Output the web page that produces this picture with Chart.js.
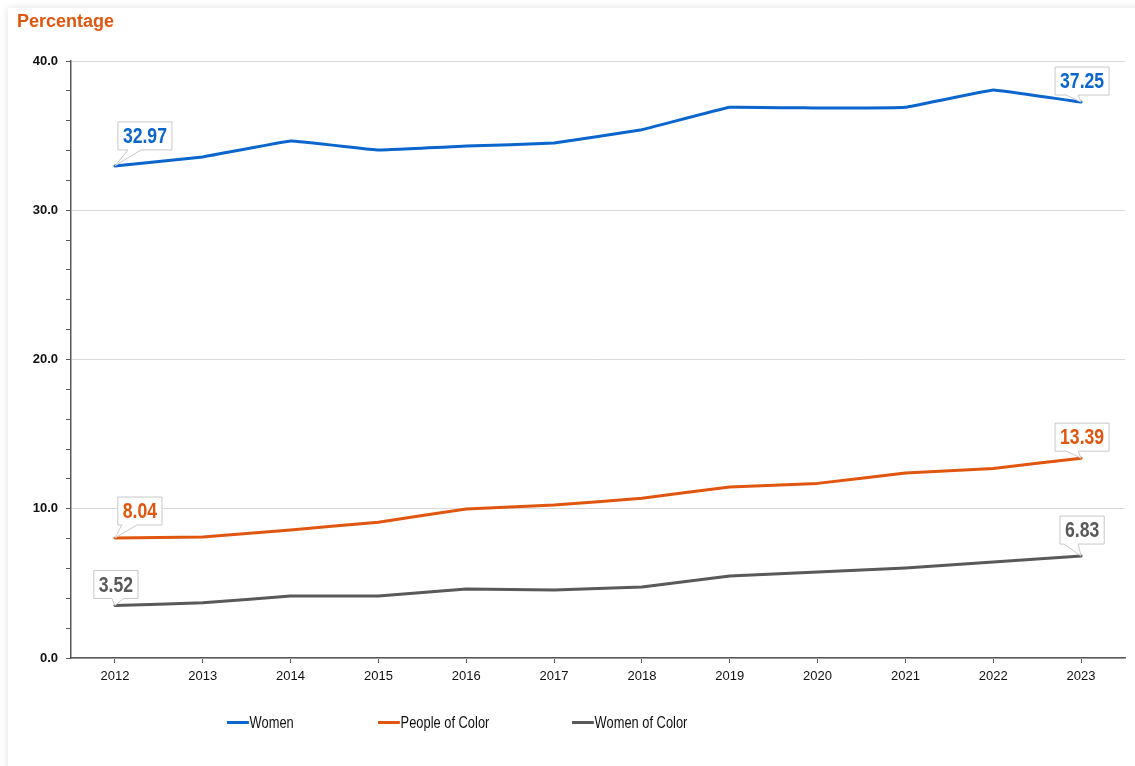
<!DOCTYPE html>
<html>
<head>
<meta charset="utf-8">
<script src="https://cdn.jsdelivr.net/npm/chart.js@4.4.1/dist/chart.umd.min.js"></script>
<style>
  html, body { margin: 0; padding: 0; background: #fff; }
  body { width: 1135px; height: 766px; position: relative; overflow: hidden; font-family: 'Liberation Sans', Arial, sans-serif; }
  .card { position: absolute; left: 8px; top: 8px; width: 1140px; height: 770px; background: #fff; box-shadow: 0 0 8px rgba(0,0,0,0.12); }
  #wrap { position: absolute; left: 0; top: 0; width: 1135px; height: 766px; }
  .title { position: absolute; left: 17px; top: 11px; font-weight: bold; font-size: 18px; color: #e0560f; }
  .legend { position: absolute; top: 713px; font-size: 16.5px; color: #111; white-space: nowrap; transform: scaleX(0.78); transform-origin: 0 50%; }
  .legend i { display: inline-block; width: 28px; height: 3px; vertical-align: middle; margin-right: 1px; position: relative; top: -1px; }
</style>
</head>
<body>
<div class="card"></div>
<div id="wrap"><canvas id="trendChart" width="1135" height="766"></canvas></div>
<div class="title">Percentage</div>
<div class="legend" style="left:227px"><i style="background:#0a66cc"></i>Women</div>
<div class="legend" style="left:378px"><i style="background:#e0560f"></i>People of Color</div>
<div class="legend" style="left:572px"><i style="background:#595959"></i>Women of Color</div>
<script>
const years = ['2012', '2013', '2014', '2015', '2016', '2017', '2018', '2019', '2020', '2021', '2022', '2023']
const women = [32.97, 33.57, 34.64, 34.04, 34.3, 34.5, 35.4, 36.9, 36.85, 36.9, 38.06, 37.25]
const peopleOfColor = [8.04, 8.1, 8.58, 9.1, 9.98, 10.25, 10.7, 11.46, 11.7, 12.4, 12.7, 13.39]
const womenOfColor = [3.52, 3.7, 4.15, 4.15, 4.62, 4.56, 4.76, 5.5, 5.76, 6.03, 6.43, 6.83]
const yTicks = [0, 10, 20, 30, 40]

const BLUE = '#0a66cc'
const ORANGE = '#e0560f'
const GRAY = '#595959'
const AXIS = '#595959'
const FONT = "'Liberation Sans', Arial, sans-serif"

// callout boxes on the first and last point of each series
const calloutPlugin = {
  id: 'callouts',
  afterDatasetsDraw(chart, args, opts) {
    const ctx = chart.ctx
    const squeeze = 0.8
    ctx.save()
    ctx.font = 'bold 22px ' + FONT
    opts.items.forEach(item => {
      const ds = chart.data.datasets[item.dataset]
      const pt = chart.getDatasetMeta(item.dataset).data[item.index]
      const text = ds.data[item.index].toFixed(2)
      const w = ctx.measureText(text).width * squeeze + 10
      const h = 28
      const cx = pt.x + item.dx
      const bottom = pt.y + item.dy
      const left = cx - w / 2
      const top = bottom - h
      ctx.beginPath()
      ctx.moveTo(left, top)
      ctx.lineTo(left + w, top)
      ctx.lineTo(left + w, bottom)
      ctx.lineTo(cx + item.tail[1], bottom)
      ctx.lineTo(pt.x, pt.y)
      ctx.lineTo(cx + item.tail[0], bottom)
      ctx.lineTo(left, bottom)
      ctx.closePath()
      ctx.fillStyle = '#fff'
      ctx.fill()
      ctx.strokeStyle = '#c8c8c8'
      ctx.lineWidth = 1
      ctx.stroke()
      ctx.save()
      ctx.translate(cx, top + h / 2 + 1)
      ctx.scale(squeeze, 1)
      ctx.fillStyle = ds.borderColor
      ctx.textAlign = 'center'
      ctx.textBaseline = 'middle'
      ctx.fillText(text, 0, 0)
      ctx.restore()
    })
    ctx.restore()
  }
}

const ctx = document.getElementById('trendChart')
new Chart(ctx, {
  type: 'line',
  data: {
    labels: years,
    datasets: [
      { label: 'Women', data: women, borderColor: BLUE, backgroundColor: BLUE },
      { label: 'People of Color', data: peopleOfColor, borderColor: ORANGE, backgroundColor: ORANGE },
      { label: 'Women of Color', data: womenOfColor, borderColor: GRAY, backgroundColor: GRAY },
    ],
  },
  options: {
    responsive: false,
    animation: false,
    devicePixelRatio: 1,
    elements: {
      line: { borderWidth: 3, tension: 0.05, borderCapStyle: 'round', borderJoinStyle: 'round' },
      point: { radius: 0, hoverRadius: 0 },
    },
    layout: { padding: { left: 0, right: 10, top: 61, bottom: 0 } },
    plugins: {
      legend: { display: false },
      tooltip: { enabled: false },
      callouts: {
        items: [
          { dataset: 0, index: 0, dx: 30, dy: -16, tail: [-17, -4] },
          { dataset: 0, index: 11, dx: 1, dy: -7, tail: [-16, -4] },
          { dataset: 1, index: 0, dx: 25, dy: -13, tail: [-18, -3] },
          { dataset: 1, index: 11, dx: 1, dy: -7, tail: [-16, -4] },
          { dataset: 2, index: 0, dx: 1, dy: -7, tail: [-4, 8] },
          { dataset: 2, index: 11, dx: 1, dy: -12, tail: [-18, -4] },
        ],
      },
    },
    scales: {
      x: {
        offset: true,
        afterFit: scale => { scale.height = 108 },
        grid: { offset: false, drawOnChartArea: false, tickLength: 5, tickColor: AXIS },
        border: { color: AXIS, width: 1.5 },
        ticks: { color: '#111', font: { family: FONT, size: 13 }, padding: 6, maxRotation: 0 },
      },
      y: {
        min: 0,
        max: 40,
        afterFit: scale => { scale.width = 71 },
        afterBuildTicks: scale => {
          const t = []
          for (let v = 0; v <= 40; v += 2) t.push({ value: v })
          scale.ticks = t
        },
        grid: {
          tickLength: 5,
          tickColor: AXIS,
          color: c => (yTicks.includes(c.tick.value) ? '#d9d9d9' : 'transparent'),
        },
        border: { color: AXIS, width: 1.5 },
        ticks: {
          color: '#111',
          font: { family: FONT, size: 13, weight: 'bold' },
          padding: 8,
          autoSkip: false,
          callback: v => (yTicks.includes(v) ? v.toFixed(1) : ''),
        },
      },
    },
  },
  plugins: [calloutPlugin],
})
</script>
</body>
</html>
